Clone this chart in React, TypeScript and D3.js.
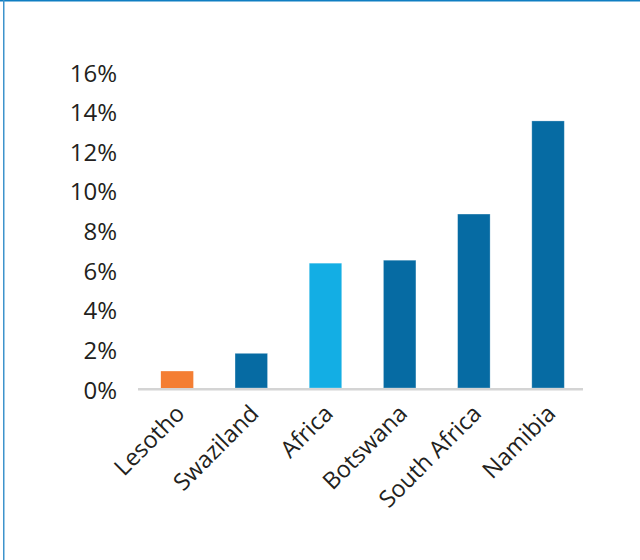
import React from "react";
import * as d3 from "d3";

const categories = ["Lesotho", "Swaziland", "Africa", "Botswana", "South Africa", "Namibia"];
const values = [0.85, 1.75, 6.3, 6.45, 8.78, 13.48];
const barColors = ["#F47E33", "#066BA3", "#13AEE4", "#066BA3", "#066BA3", "#066BA3"];
const yTicks = [0, 2, 4, 6, 8, 10, 12, 14, 16];

const W = 640;
const H = 560;
const FONT = "'Open Sans', 'Noto Sans', sans-serif";

export default function App() {
  const x = d3
    .scaleBand<string>()
    .domain(categories)
    .range([138, 583])
    .paddingInner(0.562)
    .paddingOuter(0.28)
    .align(0.55);
  const y = d3.scaleLinear().domain([0, 16]).range([388, 71]);
  const fmt = (v: number) => `${v}%`;

  return (
    <svg
      width={W}
      height={H}
      style={{ position: "absolute", left: 0, top: 0, background: "#fff" }}
      fontFamily={FONT}
    >
      {/* frame */}
      <line x1={0} x2={W} y1={0.75} y2={0.75} stroke="#0F7EC2" strokeWidth={1.5} />
      <line x1={3.75} x2={3.75} y1={0} y2={H} stroke="#3E93CC" strokeWidth={1.5} />

      {/* y tick labels */}
      {yTicks.map((t) => (
        <text
          key={t}
          x={117}
          y={y(t) + 1}
          textAnchor="end"
          dominantBaseline="central"
          fontSize={24}
          fill="#231F20"
        >
          {fmt(t)}
        </text>
      ))}

      {/* bars */}
      {categories.map((c, i) => (
        <rect
          key={c}
          x={x(c)}
          y={y(values[i])}
          width={x.bandwidth()}
          height={y(0) - y(values[i])}
          fill={barColors[i]}
          stroke={i === 0 ? "none" : "#ffffff"}
          strokeOpacity={0.35}
          strokeWidth={0.8}
        />
      ))}

      {/* x axis line */}
      <line x1={138} x2={583} y1={389.3} y2={389.3} stroke="#D4D4D4" strokeWidth={2.6} />

      {/* x labels */}
      {categories.map((c) => {
        const cx = (x(c) as number) + x.bandwidth() / 2 + 9;
        const cy = 415;
        return (
          <text
            key={c}
            x={cx}
            y={cy}
            textAnchor="end"
            fontSize={23.5}
            fill="#231F20"
            transform={`rotate(-45 ${cx} ${cy})`}
          >
            {c}
          </text>
        );
      })}
    </svg>
  );
}
